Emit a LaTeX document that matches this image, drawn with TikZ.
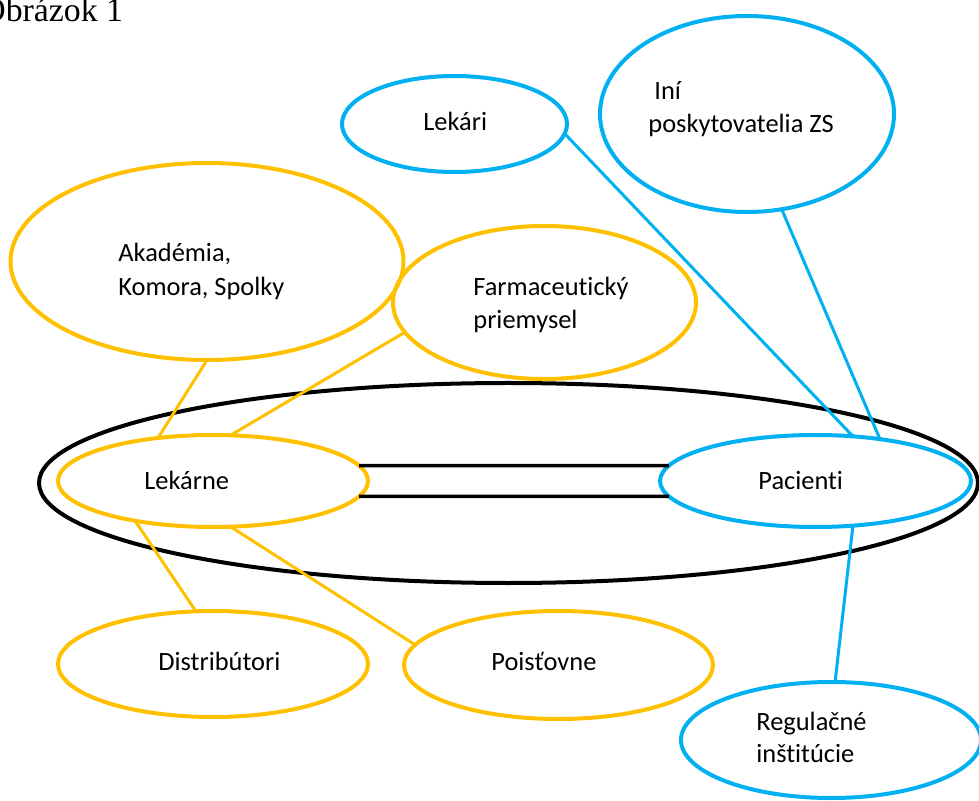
\documentclass[tikz,border=0pt]{standalone}
\usepackage{fontspec}
\setmainfont[RawFeature=-liga]{Carlito}
\newfontfamily\titlefont{Liberation Serif}
\usetikzlibrary{shapes.geometric}
\definecolor{cyel}{HTML}{FFC000}
\definecolor{cblu}{HTML}{00B0F0}
\tikzset{
  ovalbase/.style={ellipse, inner sep=0pt, outer sep=0pt, line width=2pt},
  yoval/.style={ovalbase, draw=cyel},
  boval/.style={ovalbase, draw=cblu},
  koval/.style={ovalbase, draw=black},
  ylink/.style={draw=cyel, line width=1.5pt},
  blink/.style={draw=cblu, line width=1.5pt},
  klink/.style={draw=black, line width=1.8pt},
  lbl/.style={anchor=base west, inner sep=0pt, font=\fontsize{13.2}{16}\selectfont},
}
\begin{document}
\begin{tikzpicture}[x=0.5pt, y=-0.5pt]
\useasboundingbox (0,0) rectangle (979,801);
\node[anchor=base west, inner sep=0pt, font=\titlefont\fontsize{16.9}{20}\selectfont] (title) at (-19,22) {Obrázok 1};

% ellipses
\node[koval, minimum width=469.5pt, minimum height=100pt] (big) at (508.5,483) {};
\node[yoval, minimum width=196.5pt, minimum height=98.5pt] (aka) at (207,261.5) {};
\node[yoval, minimum width=151.5pt, minimum height=76.5pt] (farm) at (544.5,302.5) {};
\node[boval, minimum width=112.5pt, minimum height=48pt] (lekari) at (454.5,124) {};
\node[boval, minimum width=147pt, minimum height=98pt] (ini) at (747,114) {};
\node[yoval, minimum width=155pt, minimum height=46pt] (lekarne) at (213,481) {};
\node[boval, minimum width=155.5pt, minimum height=46pt] (pac) at (815.5,481) {};
\node[yoval, minimum width=155pt, minimum height=53pt] (dist) at (213,664) {};
\node[yoval, minimum width=154.5pt, minimum height=54pt] (pois) at (558.5,665) {};
\node[boval, minimum width=150pt, minimum height=58pt] (reg) at (831,740) {};

% labels
\node[lbl] (t-aka1) at (118,262) {Akadémia,};
\node[lbl] (t-aka2) at (118,296) {Komora, Spolky};
\node[lbl] (t-farm1) at (473,296) {Farmaceutický};
\node[lbl] (t-farm2) at (473,329) {priemysel};
\node[lbl] (t-lekari) at (423,131) {Lekári};
\node[lbl] (t-ini1) at (654,100) {Iní};
\node[lbl] (t-ini2) at (648,133) {poskytovatelia ZS};
\node[lbl] (t-lekarne) at (144,490) {Lekárne};
\node[lbl] (t-pac) at (758,490) {Pacienti};
\node[lbl] (t-dist) at (158,670) {Distribútori};
\node[lbl] (t-pois) at (491,670) {Poisťovne};
\node[lbl] (t-reg1) at (756,730) {Regulačné};
\node[lbl] (t-reg2) at (756,762) {inštitúcie};

% black links
\draw[klink] (lekarne.6.7) -- (pac.174.5);
\draw[klink] (lekarne.-6.7) -- (pac.-174.5);

% yellow links
\draw[ylink] (aka.-90) -- (lekarne.142.5);
\draw[ylink] (farm.192.2) -- (lekarne.69.6);
\draw[ylink] (lekarne.-153) -- (dist.108.9);
\draw[ylink] (lekarne.-69.6) -- (pois.172);

% blue links
\draw[blink] (lekari.-5.7) -- (pac.50);
\draw[blink] (ini.-70.3) -- (pac.33.5);
\draw[blink] (pac.-50) -- (reg.86);
\end{tikzpicture}
\end{document}
